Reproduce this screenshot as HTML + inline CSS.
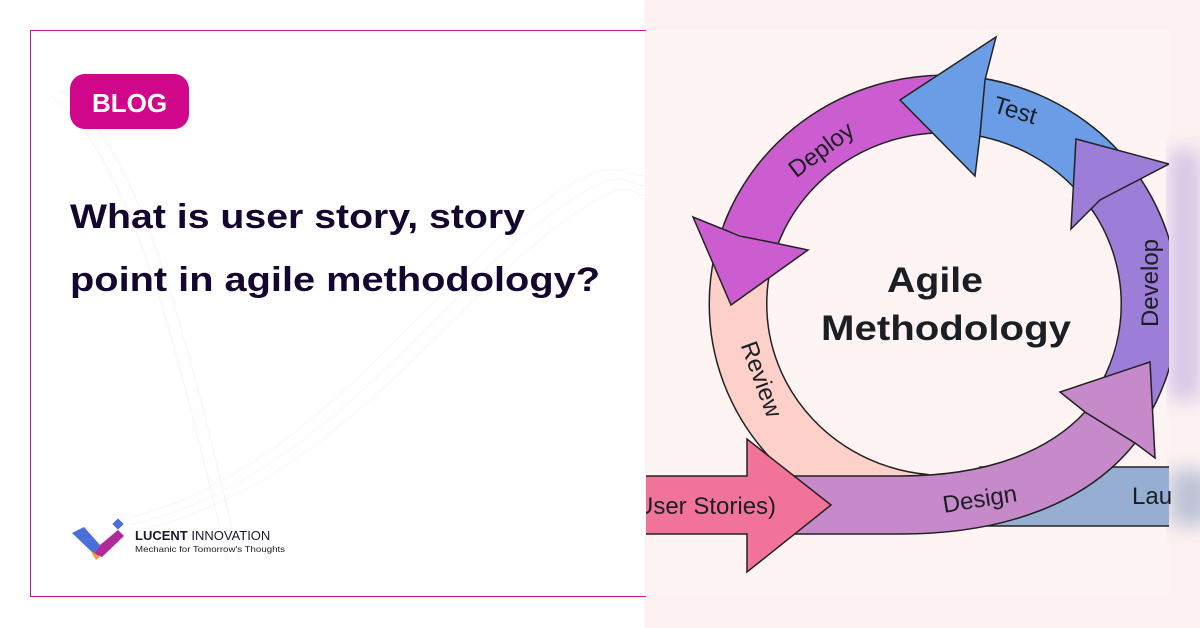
<!DOCTYPE html>
<html><head><meta charset="utf-8"><style>
html,body{margin:0;padding:0;width:1200px;height:628px;overflow:hidden;background:#fff}
svg{display:block}
</style></head><body>
<svg width="1200" height="628" viewBox="0 0 1200 628" xmlns="http://www.w3.org/2000/svg" font-family="'Liberation Sans', 'DejaVu Sans', sans-serif">
<defs>
<clipPath id="pc"><rect x="646" y="30" width="523" height="567"/></clipPath>
<filter id="bl"><feGaussianBlur stdDeviation="10"/></filter>
</defs>
<rect width="1200" height="628" fill="#fff"/>
<rect x="645" y="0" width="555" height="628" fill="#fdf1f1"/>
<!-- faint waves -->
<g fill="none" stroke="#eef3f6" stroke-width="1" opacity="0.6">
<path d="M120 520 C 300 480 420 300 520 220 S 620 180 646 175"/>
<path d="M130 525 C 310 485 430 310 530 230 S 625 190 646 185"/>
<path d="M140 530 C 320 490 440 320 540 240 S 630 200 646 195"/>
</g>
<g fill="none" stroke="#fae6ee" stroke-width="1" opacity="0.6">
<path d="M60 90 C 150 150 200 400 240 560"/>
<path d="M50 95 C 140 160 190 410 228 560"/>
</g>
<!-- border -->
<rect x="30.5" y="30.5" width="1138" height="566" fill="none" stroke="#d0168c" stroke-width="1"/>
<!-- right panel -->
<rect x="646" y="30" width="523" height="567" fill="#fdf4f3"/>
<g filter="url(#bl)" opacity="0.6">
<rect x="1170" y="470" width="40" height="55" fill="#8fa2c2"/>
<rect x="1170" y="150" width="30" height="250" fill="#b9a4e0"/>
</g>
<g clip-path="url(#pc)" stroke="#222" stroke-width="1.5" stroke-linejoin="miter">
<rect x="980" y="467" width="200" height="59" fill="#97aed3"/>
<g fill="none">
<ellipse cx="944" cy="304" rx="206" ry="200" pathLength="360" stroke="#222" stroke-width="59" stroke-dasharray="110 250" stroke-dashoffset="-95"/>
<ellipse cx="944" cy="304" rx="206" ry="200" pathLength="360" stroke="#fdd0ca" stroke-width="56" stroke-dasharray="110 250" stroke-dashoffset="-95"/>
<ellipse cx="944" cy="304" rx="206" ry="200" pathLength="360" stroke="#222" stroke-width="59" stroke-dasharray="70 290" stroke-dashoffset="-200"/>
<ellipse cx="944" cy="304" rx="206" ry="200" pathLength="360" stroke="#cb5dd0" stroke-width="56" stroke-dasharray="72 288" stroke-dashoffset="-199"/>
</g>
<polygon points="693,217 731,305 808,250 770,242 740,236" fill="#cb5dd0"/>
<g fill="none">
<ellipse cx="944" cy="304" rx="206" ry="200" pathLength="360" stroke="#222" stroke-width="59" stroke-dasharray="60 300" stroke-dashoffset="-268"/>
<ellipse cx="944" cy="304" rx="206" ry="200" pathLength="360" stroke="#6a9de6" stroke-width="56" stroke-dasharray="62 298" stroke-dashoffset="-267"/>
</g>
<polygon points="996,37 900,100 975,176 980,135 985,80" fill="#6a9de6"/>
<g fill="none">
<ellipse cx="944" cy="304" rx="206" ry="200" pathLength="360" stroke="#222" stroke-width="59" stroke-dasharray="0 325 35 0"/>
<ellipse cx="944" cy="304" rx="206" ry="200" pathLength="360" stroke="#222" stroke-width="59" stroke-dasharray="30 330"/>
<ellipse cx="944" cy="304" rx="206" ry="200" pathLength="360" stroke="#9c7dd8" stroke-width="56" stroke-dasharray="0 324 36 0"/>
<ellipse cx="944" cy="304" rx="206" ry="200" pathLength="360" stroke="#9c7dd8" stroke-width="56" stroke-dasharray="31 329"/>
</g>
<polygon points="1076,139 1071,229 1100,200 1169,164" fill="#9c7dd8"/>
<path d="M780 476 L900 476 C990 476 1050 450 1085 412 L1135 443 C1090 500 1010 534 900 534 L780 534 Z" fill="#c689c9"/>
<polygon points="1150,362 1060,392 1085,412 1135,443 1155,458" fill="#c689c9"/>
<polygon points="640,476 747,476 747,439 831,505 747,572 747,534 640,534" fill="#f27399"/>
</g>
<g fill="#1b1f24" font-size="24">
<text x="935" y="292" font-size="35" font-weight="bold" text-anchor="middle" textLength="96" lengthAdjust="spacingAndGlyphs">Agile</text>
<text x="946" y="340" font-size="35" font-weight="bold" text-anchor="middle" textLength="250" lengthAdjust="spacingAndGlyphs">Methodology</text>
<text transform="translate(1013,118) rotate(17)" text-anchor="middle">Test</text>
<text transform="translate(826,156) rotate(-37)" text-anchor="middle">Deploy</text>
<text transform="translate(1158,283) rotate(-90)" text-anchor="middle">Develop</text>
<text transform="translate(754,382) rotate(70)" text-anchor="middle">Review</text>
<text transform="translate(981,507) rotate(-9)" text-anchor="middle">Design</text>
<text x="1132" y="504">Lau</text>
</g>
<svg x="646" y="30" width="523" height="567" overflow="hidden"><text x="-10" y="484" font-size="24" fill="#1b1f24" font-family="'Liberation Sans', sans-serif">User Stories)</text></svg>
<rect x="70" y="74" width="119" height="55" rx="15" fill="#d0078a"/>
<text x="129.5" y="112" font-size="26" font-weight="bold" fill="#fff" text-anchor="middle">BLOG</text>
<g fill="#14062f" font-weight="bold" font-size="34">
<text x="70" y="228" textLength="455" lengthAdjust="spacingAndGlyphs">What is user story, story</text>
<text x="70" y="291" textLength="530" lengthAdjust="spacingAndGlyphs">point in agile methodology?</text>
</g>
<path d="M72 533 L84 527 L100 545 L94 554 Z" fill="#4a6fd8"/>
<path d="M94 554 L100 545 L118 530 L124 536 L102 557 Z" fill="#b02a9a"/>
<path d="M90 550 L100 557 L96 560 Z" fill="#f0a030"/>
<rect x="114" y="520" width="8" height="8" transform="rotate(45 118 524)" fill="#4a6fd8"/>
<text x="135" y="540" font-size="13" font-weight="bold" fill="#1a1a2e">LUCENT <tspan font-weight="normal">INNOVATION</tspan></text>
<text x="135" y="552" font-size="8.5" fill="#1a1a2e" textLength="150" lengthAdjust="spacingAndGlyphs">Mechanic for Tomorrow's Thoughts</text>
</svg>
</body></html>
